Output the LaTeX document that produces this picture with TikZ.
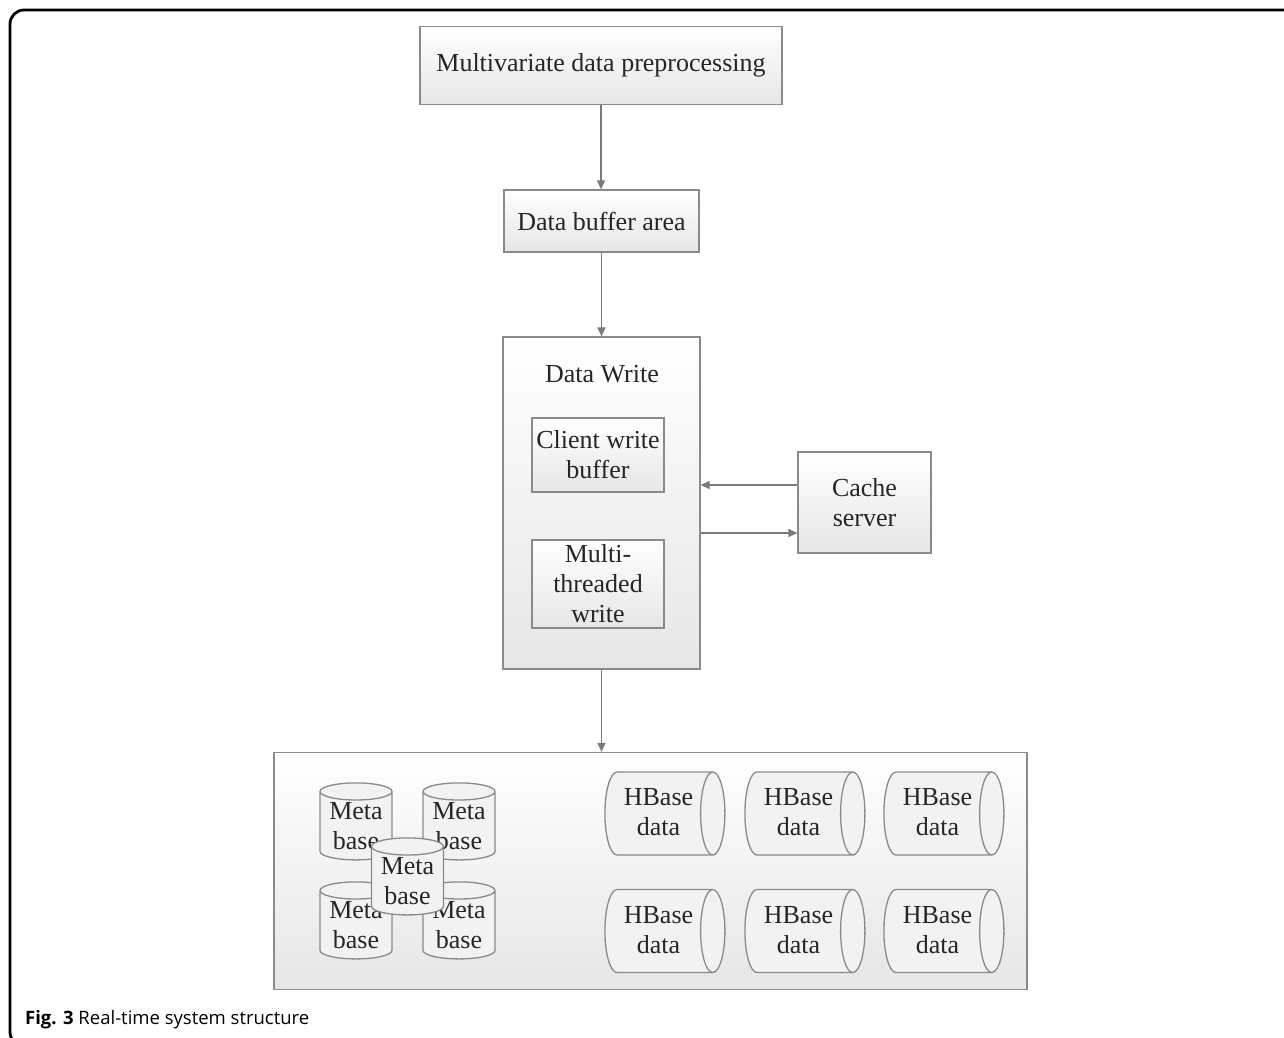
\documentclass[tikz,border=0pt]{standalone}
\usepackage{fontspec}
\setmainfont{Liberation Serif}
\newfontfamily\capfont{Open Sans}
\usetikzlibrary{shapes.geometric,arrows.meta}
\definecolor{bord}{HTML}{8A8A8A}
\definecolor{txt}{HTML}{262626}
\definecolor{arr}{HTML}{7A7A7A}
\definecolor{fillbot}{HTML}{E6E6E6}
\definecolor{cylfill}{HTML}{F2F2F2}
\begin{document}
\begin{tikzpicture}[x=1pt,y=-1pt,
  box/.style={draw=bord, line width=1.3pt, top color=white, bottom color=fillbot,
    text=txt, font=\fontsize{26}{30}\selectfont, align=center, inner sep=0pt},
  conn/.style={draw=arr, line width=1.3pt, -{Triangle[length=9pt,width=8pt]}},
  metacyl/.style={cylinder, shape border rotate=90, draw=bord, line width=1.3pt,
    fill=cylfill, text=txt, font=\fontsize{26}{30}\selectfont, align=center,
    inner sep=0pt, minimum width=72pt, minimum height=77pt, aspect=0.32},
  hbcyl/.style={cylinder, draw=bord, line width=1.3pt,
    fill=cylfill, inner sep=0pt, minimum width=83pt, minimum height=120pt, aspect=0.45},
  cyltext/.style={text=txt, font=\fontsize{26}{30}\selectfont, align=center, inner sep=0pt}
]
\useasboundingbox (0,0) rectangle (1284,1037);
\fill[white] (0,0) rectangle (1284,1037);
% outer frame
\draw[line width=2.8pt, rounded corners=14pt] (1300,10) -- (10,10) -- (10,1046) -- (40,1046);

\node[box, minimum width=362pt, minimum height=78pt] (pre) at (601,65.5) {Multivariate data preprocessing};
\node[box, minimum width=195pt, minimum height=62pt] (buf) at (601.5,221) {Data buffer area};
\node[box, minimum width=197pt, minimum height=332pt] (dw) at (601.5,503) {};
\node[text=txt, font=\fontsize{26}{30}\selectfont, inner sep=0pt] (dwlabel) at (602,374) {Data Write};
\node[box, minimum width=132pt, minimum height=74pt] (cwb) at (598,455) {Client write\\buffer};
\node[box, minimum width=132pt, minimum height=88pt] (mtw) at (598,584) {Multi-\\threaded\\write};
\node[box, minimum width=133pt, minimum height=101pt] (cache) at (864.5,502.5) {Cache\\server};
\node[box, minimum width=753pt, minimum height=237pt] (store) at (650.5,871) {};

\draw[conn] (pre.south) -- (pre.south |- buf.north);
\draw[conn] (buf.south) -- (buf.south |- dw.north);
\draw[conn] ([yshift=17.5pt]cache.west) -- ([yshift=17.5pt]cache.west -| dw.east);
\draw[conn] ([yshift=-30pt]dw.east) -- ([yshift=-30pt]dw.east -| cache.west);
\draw[conn] (dw.south) -- (dw.south |- store.north);

% meta bases
\node[metacyl] (m1) at (356,826) {Meta\\base};
\node[metacyl] (m2) at (459,826) {Meta\\base};
\node[metacyl] (m3) at (356,925) {Meta\\base};
\node[metacyl] (m4) at (459,925) {Meta\\base};
\node[metacyl] (m5) at (407.5,881) {Meta\\base};

% hbase data
\node[hbcyl] (h1) at (658.5,813.5) {\rule{0pt}{54pt}};
\node[hbcyl] (h2) at (798.5,813.5) {\rule{0pt}{54pt}};
\node[hbcyl] (h3) at (937.5,813.5) {\rule{0pt}{54pt}};
\node[hbcyl] (h4) at (658.5,931) {\rule{0pt}{54pt}};
\node[hbcyl] (h5) at (798.5,931) {\rule{0pt}{54pt}};
\node[hbcyl] (h6) at (937.5,931) {\rule{0pt}{54pt}};
\node[cyltext] (h1t) at ([yshift=1pt]h1.center) {HBase\\data};
\node[cyltext] (h2t) at ([yshift=1pt]h2.center) {HBase\\data};
\node[cyltext] (h3t) at ([yshift=1pt]h3.center) {HBase\\data};
\node[cyltext] (h4t) at ([yshift=1pt]h4.center) {HBase\\data};
\node[cyltext] (h5t) at ([yshift=1pt]h5.center) {HBase\\data};
\node[cyltext] (h6t) at ([yshift=1pt]h6.center) {HBase\\data};

\node[anchor=west, inner sep=0pt, text=black, font=\capfont\fontsize{18.5}{22}\selectfont] (cap) at (25,1020) {\textbf{Fig. 3} Real-time system structure};
\end{tikzpicture}
\end{document}
